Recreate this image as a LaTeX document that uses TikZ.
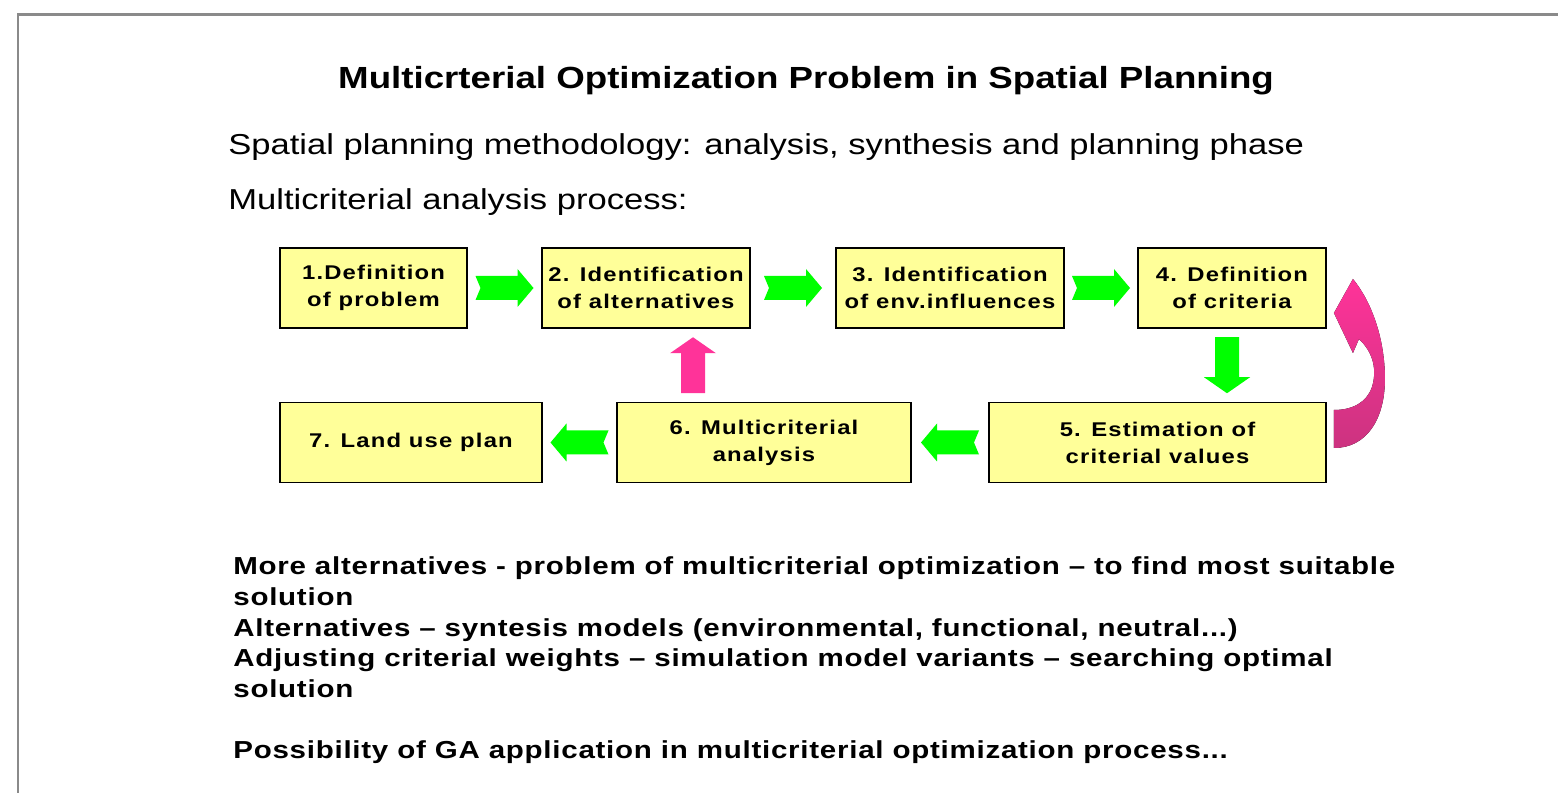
\documentclass[tikz,border=0pt]{standalone}
\usepackage{fontspec}
\setmainfont{Liberation Sans}[FakeStretch=1.2]
\newfontfamily\boxfont{Liberation Sans}[FakeStretch=1.2,LetterSpace=6]
\newfontfamily\notefont{Liberation Sans}[FakeStretch=1.2,LetterSpace=3]
\usetikzlibrary{%
calc,
positioning
}
\definecolor{boxyellow}{HTML}{FFFF99}
\definecolor{arrgreen}{HTML}{00FF00}
\definecolor{arrpink}{HTML}{FF3399}
\definecolor{arrplum}{HTML}{CC3380}
\definecolor{framegray}{HTML}{8A8A8A}

\tikzset{
  stepbox/.style={draw=black,line width=1.1pt,fill=boxyellow,minimum height=1.6cm,
    inner sep=0pt,align=center,font=\boxfont\bfseries\fontsize{11.3pt}{15.3pt}\selectfont},
  plaintext/.style={inner sep=0pt,anchor=base west},
  flowarr/.pic={\fill[pic actions] (-29,-12) -- (-24,0) -- (-29,12) -- (13,12) -- (13,19)
    -- (29,0) -- (13,-19) -- (13,-12) -- cycle;},
  plainarr/.pic={\fill[pic actions] (-28,-12) -- (12,-12) -- (12,-23) -- (28,0)
    -- (12,23) -- (12,12) -- (-28,12) -- cycle;}
}

\begin{document}
\begin{tikzpicture}[x=0.02cm,y=-0.02cm]
\useasboundingbox (0,0) rectangle (1562,793);
\draw[framegray,line width=1.7pt] (18,793) -- (18,15) -- (1558,15);

% title and intro lines
\node[inner sep=0pt,anchor=base,font=\bfseries\fontsize{17.4pt}{20pt}\selectfont] (title) at (806,89)
  {Multicrterial Optimization Problem in Spatial Planning};
\node[plaintext,font=\fontsize{16.4pt}{19pt}\selectfont] (method) at (228,155)
  {Spatial planning methodology: analysis, synthesis and planning phase};
\node[plaintext,font=\fontsize{16.4pt}{19pt}\selectfont] (process) at (228,210)
  {Multicriterial analysis process:};

% the seven steps
\node[stepbox,minimum width=3.74cm] (b1) at (373.5,288) {1.Definition\\of problem};
\node[stepbox,minimum width=4.16cm] (b2) at (646,288) {2. Identification\\of alternatives};
\node[stepbox,minimum width=4.56cm] (b3) at (950,288) {3. Identification\\of env.influences};
\node[stepbox,minimum width=3.76cm] (b4) at (1232,288) {4. Definition\\of criteria};
\node[stepbox,minimum width=6.74cm] (b5) at (1157.5,442.5) {5. Estimation of\\criterial values};
\node[stepbox,minimum width=5.88cm] (b6) at (764,442.5) {6. Multicriterial\\analysis};
\node[stepbox,minimum width=5.24cm] (b7) at (411,442.5) {7. Land use plan};

% block arrows
\foreach \a/\b in {b1/b2,b2/b3,b3/b4} {
  \pic[fill=arrgreen] at ($(\a.east)!0.5!(\b.west)$) {flowarr};
}
\foreach \a/\b in {b5/b6,b6/b7} {
  \pic[fill=arrgreen,rotate=180] at ($(\a.west)!0.5!(\b.east)$) {flowarr};
}
\pic[fill=arrgreen,rotate=-90] at ($(b4.south)!0.5!(b4.south |- b5.north)+(-5,0)$) {plainarr};
\pic[fill=arrpink,rotate=90] at ($(b2.south)!0.5!(b6.north)+(-12,0)$) {plainarr};

% loop back from 5 to 4
\fill[top color=arrpink,bottom color=arrplum]
  ($(b5.east)+(7,5.5)$) .. controls ($(b5.east)+(39,5.5)$) and ($(b5.east)+(59,-22.5)$)
  .. ($(b5.east)+(58,-67.5)$) .. controls ($(b4.east)+(57,48)$) and ($(b4.east)+(44,13)$)
  .. ($(b4.east)+(26,-9)$) -- ($(b4.east)+(7,25)$) -- ($(b4.east)+(26,65)$)
  -- ($(b4.east)+(32,51)$) .. controls ($(b4.east)+(47,65)$) and ($(b4.east)+(50,83)$)
  .. ($(b5.east)+(45,-55.5)$) .. controls ($(b5.east)+(40,-40.5)$) and ($(b5.east)+(26,-32.5)$)
  .. ($(b5.east)+(7,-32.5)$) -- cycle;

% notes below
\node[inner sep=0pt,anchor=north west,align=left,font=\notefont\bfseries\fontsize{14pt}{17.6pt}\selectfont] (notes) at (233,556)
  {More alternatives - problem of multicriterial optimization – to find most suitable\\
   solution\\
   Alternatives – syntesis models (environmental, functional, neutral...)\\
   Adjusting criterial weights – simulation model variants – searching optimal\\
   solution};
\node[plaintext,font=\notefont\bfseries\fontsize{14pt}{17.6pt}\selectfont] (ga) at (233,758)
  {Possibility of GA application in multicriterial optimization process...};
\end{tikzpicture}
\end{document}
